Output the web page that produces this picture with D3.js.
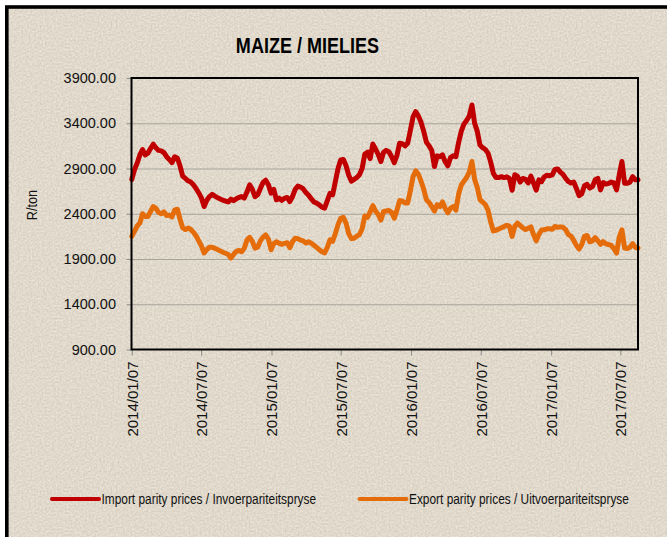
<!DOCTYPE html>
<html>
<head>
<meta charset="utf-8">
<script src="https://cdn.jsdelivr.net/npm/d3@7/dist/d3.min.js"></script>
<style>
    html, body { margin: 0; padding: 0; background: #ffffff; }
    svg { display: block; }
    .chart-text { font-family: "Liberation Sans", Arial, sans-serif; }
</style>
</head>
<body>
<svg id="vis" width="667" height="537"></svg>
<script>
/**
 * Weekly maize parity prices (R/ton)
 */
const TITLE = "MAIZE / MIELIES";
const Y_LABEL = "R/ton";
const START_DATE = "2014/01/07";   // first weekly observation

const X_TICKS = ["2014/01/07", "2014/07/07", "2015/01/07", "2015/07/07",
                 "2016/01/07", "2016/07/07", "2017/01/07", "2017/07/07"];
const Y_TICKS = [900, 1400, 1900, 2400, 2900, 3400, 3900];

const SERIES_NAMES = ["Import parity prices / Invoerpariteitspryse",
                      "Export parity prices / Uitvoerpariteitspryse"];
const COLORS = ["#c00000", "#e46c0a"];

const importPrices = [
    2780, 2885, 2959, 3050, 3110, 3050, 3070, 3120, 3168, 3130,
    3100, 3095, 3075, 3030, 3000, 2965, 3030, 3014, 2930, 2815,
    2790, 2764, 2750, 2720, 2680, 2630, 2575, 2480, 2550, 2590,
    2615, 2595, 2578, 2563, 2550, 2540, 2530, 2562, 2545, 2565,
    2580, 2590, 2573, 2640, 2720, 2670, 2590, 2610, 2680, 2745,
    2770, 2720, 2628, 2670, 2554, 2573, 2548, 2570, 2580, 2535,
    2590, 2670, 2705, 2695, 2675, 2635, 2605, 2565, 2530, 2518,
    2499, 2472, 2462, 2545, 2625, 2609, 2756, 2900, 2995, 3000,
    2930, 2825, 2760, 2780, 2800, 2830, 2900, 3060, 3080, 3010,
    3170, 3115, 3055, 2977, 3080, 3100, 3085, 3030, 2965, 3045,
    3180, 3175, 3150, 3180, 3320, 3470, 3528, 3480, 3410, 3310,
    3190, 3150, 3100, 2921, 3040, 3030, 3050, 2975, 2930, 3020,
    3040, 3030, 3185, 3310, 3390, 3430, 3480, 3602, 3400, 3310,
    3160, 3130, 3110, 3070, 2970, 2845, 2800, 2800, 2810, 2800,
    2808, 2790, 2660, 2830, 2815, 2750, 2790, 2780, 2740, 2815,
    2740, 2660, 2775, 2756, 2808, 2825, 2820, 2830, 2890, 2895,
    2860, 2835, 2790, 2755, 2740, 2750, 2680, 2600, 2620, 2710,
    2725, 2683, 2700, 2775, 2790, 2664, 2745, 2728, 2735, 2750,
    2740, 2664, 2830, 2977, 2738, 2738, 2750, 2810, 2775, 2775
];

const exportPrices = [
    2150, 2205, 2265, 2297, 2400, 2370, 2370, 2425, 2480, 2460,
    2415, 2400, 2420, 2380, 2385, 2365, 2440, 2450, 2340, 2245,
    2225, 2242, 2226, 2195, 2155, 2100, 2045, 1966, 2005, 2030,
    2030, 2018, 2005, 1990, 1975, 1963, 1950, 1911, 1950, 1985,
    1995, 1980, 2018, 2110, 2140, 2095, 2020, 2030, 2100, 2142,
    2165, 2120, 2003, 2070, 2090, 2075, 2062, 2072, 2080, 2025,
    2092, 2130, 2125, 2108, 2100, 2076, 2090, 2075, 2052, 2028,
    2003, 1980, 1968, 2030, 2113, 2096, 2180, 2280, 2350, 2360,
    2295, 2180, 2125, 2130, 2152, 2170, 2235, 2375, 2360, 2420,
    2490, 2430, 2392, 2330, 2425, 2430, 2435, 2415, 2350, 2440,
    2545, 2540, 2518, 2520, 2655, 2808, 2874, 2835, 2760, 2670,
    2555, 2525, 2480, 2430, 2500, 2480, 2530, 2460, 2410, 2460,
    2480, 2440, 2615, 2715, 2760, 2800, 2860, 2977, 2780, 2690,
    2555, 2530, 2500, 2440, 2310, 2210, 2218, 2232, 2245, 2258,
    2272, 2262, 2150, 2262, 2295, 2270, 2243, 2225, 2240, 2255,
    2170, 2100, 2172, 2220, 2223, 2233, 2235, 2228, 2260, 2250,
    2255, 2250, 2225, 2170, 2152, 2105, 2050, 2010, 2060, 2150,
    2160, 2090, 2100, 2135, 2102, 2062, 2092, 2068, 2060, 2050,
    2015, 1966, 2140, 2223, 2021, 2015, 2030, 2070, 2030, 2021
];

// magic numbers for the plot frame
const WIDTH = 667, HEIGHT = 537;
const MARGINS = {top: 78, right: 29, bottom: 187.5, left: 131.5};
const NARROW = 0.82;   // horizontal squeeze to mimic Arial Narrow

window.onload = function(){
    draw();
};

function draw(){
    var svg = d3.select("#vis");
    var parseDate = d3.timeParse("%Y/%m/%d");
    var start = parseDate(START_DATE);
    var dates = importPrices.map(function(d, i){ return d3.timeDay.offset(start, 7 * i); });

    var plotRight = WIDTH - MARGINS.right;
    var plotBottom = HEIGHT - MARGINS.bottom;

    var x = d3.scaleTime()
        .domain([dates[0], dates[dates.length - 1]])
        .range([MARGINS.left + 0.3, plotRight]);
    var y = d3.scaleLinear()
        .domain([Y_TICKS[0], Y_TICKS[Y_TICKS.length - 1]])
        .range([plotBottom, MARGINS.top]);

    // paper-like background with the black border on top and left
    var defs = svg.append("defs");
    var grain = defs.append("filter").attr("id", "grain")
        .attr("x", 0).attr("y", 0).attr("width", "100%").attr("height", "100%")
        .attr("color-interpolation-filters", "sRGB");
    grain.append("feTurbulence")
        .attr("type", "fractalNoise")
        .attr("baseFrequency", 0.55)
        .attr("numOctaves", 1)
        .attr("seed", 11);
    grain.append("feColorMatrix")
        .attr("type", "matrix")
        .attr("values", "1.4 0 0 0 -0.2  1.4 0 0 0 -0.2  1.4 0 0 0 -0.2  0 0 0 0 0.12");

    svg.append("rect")
        .attr("x", 0).attr("y", 0).attr("width", WIDTH).attr("height", HEIGHT)
        .attr("fill", "#ffffff");
    svg.append("rect")
        .attr("x", 6.8).attr("y", 7).attr("width", WIDTH + 20).attr("height", HEIGHT + 20)
        .attr("fill", "#ede5d6");
    svg.append("rect")
        .attr("x", 6.8).attr("y", 7).attr("width", WIDTH).attr("height", HEIGHT)
        .attr("filter", "url(#grain)");
    svg.append("rect")
        .attr("x", 6.8).attr("y", 7).attr("width", WIDTH + 20).attr("height", HEIGHT + 20)
        .attr("fill", "none")
        .attr("stroke", "#000000")
        .attr("stroke-width", 3.6);

    // title
    svg.append("text")
        .attr("class", "chart-text")
        .attr("transform", `translate(307.5, 53) scale(${NARROW}, 1)`)
        .attr("text-anchor", "middle")
        .attr("font-size", 22)
        .attr("font-weight", "bold")
        .attr("fill", "#000")
        .text(TITLE);

    // horizontal gridlines
    svg.append("g")
        .attr("transform", `translate(${MARGINS.left}, 0)`)
        .call(d3.axisLeft(y)
            .tickValues(Y_TICKS.slice(1, -1))
            .tickSize(-(plotRight - MARGINS.left))
            .tickFormat(""))
        .call(function(g){ g.select(".domain").remove(); })
        .selectAll("line")
        .attr("stroke", "#a8a39b")
        .attr("stroke-width", 1);

    // y axis ticks and labels
    var yAxis = svg.append("g")
        .attr("transform", `translate(${MARGINS.left}, 0)`)
        .call(d3.axisLeft(y)
            .tickValues(Y_TICKS)
            .tickSize(5)
            .tickPadding(10.5)
            .tickFormat(d3.format(".2f")));
    yAxis.select(".domain").remove();
    yAxis.selectAll("line").attr("stroke", "#8c8c8c");
    yAxis.selectAll("text")
        .attr("class", "chart-text")
        .attr("font-size", 14.5)
        .attr("fill", "#111");

    // x axis ticks and rotated date labels
    var xAxis = svg.append("g")
        .attr("transform", `translate(0, ${plotBottom})`)
        .call(d3.axisBottom(x)
            .tickValues(X_TICKS.map(parseDate))
            .tickSize(6)
            .tickFormat(d3.timeFormat("%Y/%m/%d")));
    xAxis.select(".domain").remove();
    xAxis.selectAll("line").attr("stroke", "#8c8c8c");
    xAxis.selectAll("text")
        .attr("class", "chart-text")
        .attr("font-size", 15)
        .attr("fill", "#111")
        .attr("transform", "rotate(-90)")
        .attr("x", -12)
        .attr("y", 0)
        .attr("dy", "0.36em")
        .style("text-anchor", "end");

    // y axis title
    svg.append("text")
        .attr("class", "chart-text")
        .attr("transform", `translate(31.5, 205) rotate(-90) scale(${NARROW}, 1)`)
        .attr("text-anchor", "middle")
        .attr("dy", "0.35em")
        .attr("font-size", 15.5)
        .attr("fill", "#111")
        .text(Y_LABEL);

    // the two price lines
    var line = d3.line()
        .x(function(d){ return x(d.date); })
        .y(function(d){ return y(d.value); });

    [importPrices, exportPrices].forEach(function(values, i){
        var points = values.map(function(v, j){ return {date: dates[j], value: v}; });
        svg.append("path")
            .datum(points)
            .attr("d", line)
            .attr("fill", "none")
            .attr("stroke", COLORS[i])
            .attr("stroke-width", 5)
            .attr("stroke-linejoin", "round")
            .attr("stroke-linecap", "round");
    });

    // plot frame
    svg.append("rect")
        .attr("x", MARGINS.left)
        .attr("y", MARGINS.top)
        .attr("width", plotRight - MARGINS.left)
        .attr("height", plotBottom - MARGINS.top)
        .attr("fill", "none")
        .attr("stroke", "#000")
        .attr("stroke-width", 2);

    // legend
    var legendX = [52, 359.5];
    SERIES_NAMES.forEach(function(name, i){
        var g = svg.append("g")
            .attr("transform", `translate(${legendX[i]}, 499)`);
        g.append("line")
            .attr("x1", 0).attr("x2", 47)
            .attr("y1", 0).attr("y2", 0)
            .attr("stroke", COLORS[i])
            .attr("stroke-width", 4)
            .attr("stroke-linecap", "round");
        g.append("text")
            .attr("class", "chart-text")
            .attr("transform", `translate(49.5, 0) scale(${NARROW}, 1)`)
            .attr("dy", "0.35em")
            .attr("font-size", 14.5)
            .attr("fill", "#111")
            .text(name);
    });
}
</script>
</body>
</html>
